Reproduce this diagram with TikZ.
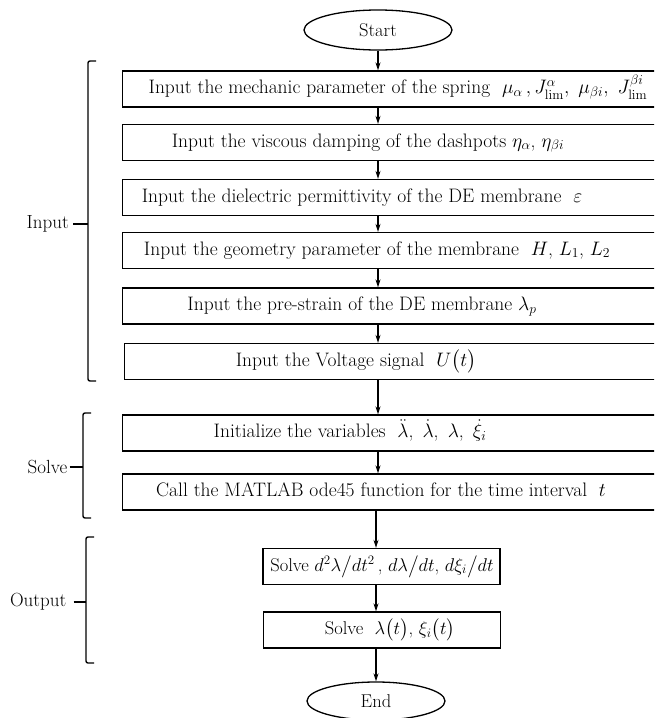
\RequirePackage{fix-cm}
\documentclass[tikz,border=0pt]{standalone}
\usepackage{amsmath, amssymb}
\usetikzlibrary{arrows.meta, shapes.geometric}

\tikzset{
  every node/.style={font=\fontsize{19.5}{23}\selectfont},
  stepbox/.style={draw, line width=1.3pt, minimum width=560pt, minimum height=36pt, inner sep=0pt, anchor=west},
  smallbox/.style={draw, line width=1.3pt, minimum width=237pt, minimum height=36pt, inner sep=0pt},
  terminal/.style={draw, ellipse, line width=1.3pt, inner sep=0pt, font=\fontsize{18.5}{22}\selectfont},
  steptext/.style={inner sep=0pt, text height=13pt, text depth=4pt},
  smalltext/.style={steptext, font=\fontsize{18.5}{22}\selectfont},
  grouplbl/.style={inner sep=0pt, anchor=east, font=\fontsize{19}{22}\selectfont},
  flowarr/.style={-{Stealth[length=8pt,width=5pt]}, line width=1.2pt},
  brackline/.style={line width=1.4pt, rounded corners=2pt}
}

\begin{document}
\begin{tikzpicture}[x=1pt, y=-1pt]
    \useasboundingbox (0,0) rectangle (654,718);
    \clip (0,0) rectangle (654,718);

    % Start and End
    \node[terminal, minimum width=148pt, minimum height=40pt] (start) at (378,30) {Start};
    \node[terminal, minimum width=138pt, minimum height=38pt] (end) at (376,701) {End};

    % Input boxes
    \node[stepbox] (b1) at (122,89) {};
    \node[stepbox] (b2) at (122,142.5) {};
    \node[stepbox] (b3) at (122,197.5) {};
    \node[stepbox] (b4) at (122,250.5) {};
    \node[stepbox] (b5) at (122,306) {};
    \node[stepbox] (b6) at (124,361.5) {};

    % Solve boxes
    \node[stepbox] (b7) at (122,433) {};
    \node[stepbox] (b8) at (122,492) {};

    % Output boxes
    \node[smallbox] (b9) at (381.5,566.5) {};
    \node[smallbox] (b10) at (382,630) {};

    % Texts of the boxes
    \node[steptext] (t1) at (398,89) {Input the mechanic parameter of the spring \ $\mu_{\alpha}\,,J^{\alpha}_{\mathrm{lim}},\ \mu_{\beta i},\ J^{\beta i}_{\mathrm{lim}}$};
    \node[steptext] (t2) at (368,142.5) {Input the viscous damping of the dashpots $\eta_{\alpha}$, $\eta_{\beta i}$};
    \node[steptext] (t3) at (362,197.5) {Input the dielectric permittivity of the DE membrane \ $\varepsilon$};
    \node[steptext] (t4) at (377,250.5) {Input the geometry parameter of the membrane \ $H$, $L_1$, $L_2$};
    \node[steptext] (t5) at (362,306) {Input the pre-strain of the DE membrane $\lambda_p$};
    \node[steptext] (t6) at (356,361.5) {Input the Voltage signal \ $U\big(t\big)$};
    \node[steptext] (t7) at (350,433) {Initialize the variables \ $\ddot{\lambda}$,\, $\dot{\lambda}$,\, $\lambda$,\, $\dot{\xi}_i$};
    \node[steptext] (t8) at (381,492) {Call the MATLAB ode45 function for the time interval \ $t$};
    \node[smalltext] (t9) at (382,566.5) {Solve $d^2\lambda\big/dt^2$\,, $d\lambda\big/dt$, $d\xi_i\big/dt$};
    \node[smalltext] (t10) at (390,630) {Solve \ $\lambda\big(t\big)$, $\xi_i\big(t\big)$};

    % Arrows down the chart
    \draw[flowarr] (start.south) -- (start.south |- b1.north);
    \draw[flowarr] (start.south |- b1.south) -- (start.south |- b2.north);
    \draw[flowarr] (start.south |- b2.south) -- (start.south |- b3.north);
    \draw[flowarr] (start.south |- b3.south) -- (start.south |- b4.north);
    \draw[flowarr] (start.south |- b4.south) -- (start.south |- b5.north);
    \draw[flowarr] (start.south |- b5.south) -- (start.south |- b6.north);
    \draw[flowarr] (start.south |- b6.south) -- (start.south |- b7.north);
    \draw[flowarr] (start.south |- b7.south) -- (start.south |- b8.north);
    \draw[flowarr] (end.north |- b8.south) -- (end.north |- b9.north);
    \draw[flowarr] (end.north |- b9.south) -- (end.north |- b10.north);
    \draw[flowarr] (end.north |- b10.south) -- (end.north);

    % Group brackets
    \node[grouplbl] (gin) at (69,224) {Input};
    \node[grouplbl] (gsolve) at (67.5,467) {Solve};
    \node[grouplbl] (gout) at (66.5,602) {Output};
    \coordinate (inmid) at (88,224);
    \coordinate (solvemid) at (83,467);
    \coordinate (outmid) at (86,602);

    \draw[brackline] (96,61) -- (88,61) -- (88,381) -- (96,381);
    \draw[brackline] (91,413) -- (83,413) -- (83,518) -- (91,518);
    \draw[brackline] (94,537) -- (86,537) -- (86,663) -- (94,663);
    \draw[line width=1.2pt] (gin.east) ++(4,0) -- (inmid);
    \draw[line width=1.2pt] (gsolve.east) ++(2,0) -- (solvemid);
    \draw[line width=1.2pt] (gout.east) ++(7,0) -- (outmid);
\end{tikzpicture}
\end{document}
